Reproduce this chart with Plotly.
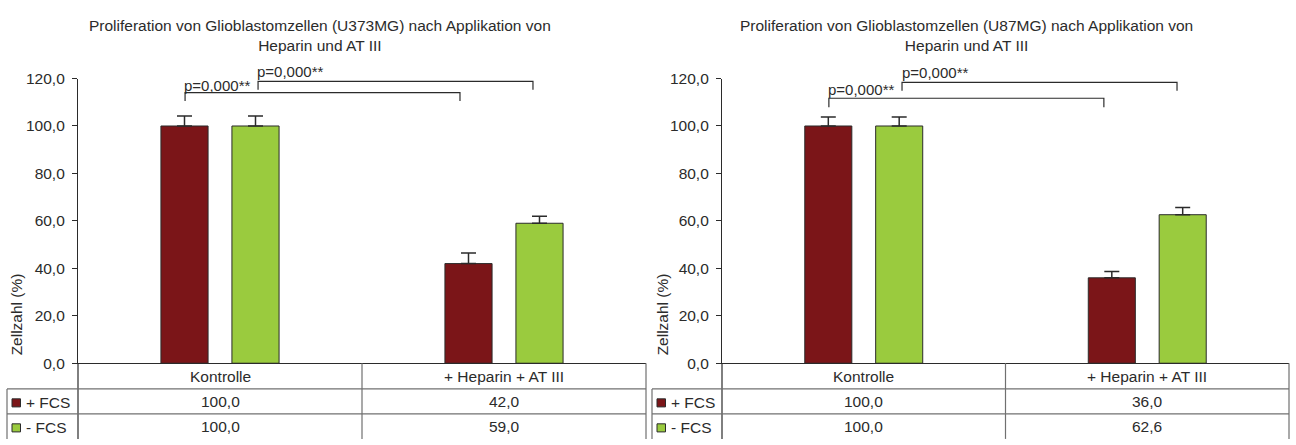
import plotly.graph_objects as go

# ---------------- data ----------------
categories = ["Kontrolle", "+ Heparin + AT III"]
series_names = ["+ FCS", "- FCS"]
titles = [
    "Proliferation von Glioblastomzellen (U373MG) nach Applikation von<br>Heparin und AT III",
    "Proliferation von Glioblastomzellen (U87MG) nach Applikation von<br>Heparin und AT III",
]
u373_plus = [100.0, 42.0]
u373_minus = [100.0, 59.0]
u373_plus_err = [4.2, 4.5]
u373_minus_err = [4.2, 3.0]
u87_plus = [100.0, 36.0]
u87_minus = [100.0, 62.6]
u87_plus_err = [3.8, 2.7]
u87_minus_err = [3.8, 3.0]
p_label = "p=0,000**"
y_ticks = [0, 20, 40, 60, 80, 100, 120]

# ---------------- style ----------------
W, H = 1296, 445
RED = "#7b1518"
GREEN = "#9acb3e"
DARK = "#2b2b2b"
GRID = "#707070"
FONT = "Liberation Sans, Arial, sans-serif"
FS = 15.5


def px(x):
    return x / W


def py(y):
    return 1 - y / H


panels = [
    dict(x0=78, x1=646, lab0=7, yt=16.5, tcx=320,
         plus=u373_plus, minus=u373_minus, pe=u373_plus_err, me=u373_minus_err,
         brA=(-0.123, 0.845, 114.1, 110.5), brB=(0.134, 1.102, 118.8, 115.3),
         lA=(-0.012, 116.9), lB=(0.246, 123.1)),
    dict(x0=722, x1=1289, lab0=652, yt=662.5, tcx=966,
         plus=u87_plus, minus=u87_minus, pe=u87_plus_err, me=u87_minus_err,
         brA=(-0.123, 0.847, 111.7, 107.9), brB=(0.135, 1.105, 118.4, 114.9),
         lA=(-0.008, 115.4), lB=(0.250, 122.7)),
]

Y0, Y120 = 368.3, 72.3
ROW1, ROW2 = 395, 421

fig = go.Figure()
shapes = []
annotations = []
xpos = [0, 1]
bw = 0.166

for i, p in enumerate(panels):
    xa = "x" if i == 0 else "x2"
    ya = "y" if i == 0 else "y2"
    for vals, errs, col, off, name in [
        (p["plus"], p["pe"], RED, -0.125 - bw / 2, series_names[0]),
        (p["minus"], p["me"], GREEN, 0.125 - bw / 2, series_names[1]),
    ]:
        fig.add_trace(go.Bar(
            x=xpos, y=vals, width=bw, offset=off, name=name, showlegend=False,
            marker=dict(color=col, line=dict(color=DARK, width=1)),
            error_y=dict(type="data", array=errs, arrayminus=[0] * len(errs),
                         symmetric=False, color=DARK, thickness=1.5, width=7.5),
            xaxis=xa, yaxis=ya,
        ))

    # brackets
    for (xl, xr, yh, yl) in (p["brA"], p["brB"]):
        shapes.append(dict(type="path", xref=xa, yref=ya,
                           path=f"M {xl},{yl} L {xl},{yh} L {xr},{yh} L {xr},{yl}",
                           line=dict(color=DARK, width=1.2)))
    for (lx, ly) in (p["lA"], p["lB"]):
        annotations.append(dict(x=lx, y=ly / 120.0, xref=xa, yref=ya + " domain", text=p_label,
                                showarrow=False, xanchor="center", yanchor="middle",
                                font=dict(size=15, color=DARK, family=FONT)))

    # title
    annotations.append(dict(x=px(p["tcx"]), y=py(6), xref="paper", yref="paper",
                            text=titles[i], showarrow=False, xanchor="center",
                            yanchor="top", align="center",
                            font=dict(size=FS, color=DARK, family=FONT)))
    # y title
    annotations.append(dict(x=px(p["yt"]), y=py(318), xref="paper", yref="paper",
                            text="Zellzahl (%)", textangle=-90, showarrow=False,
                            xanchor="center", yanchor="middle",
                            font=dict(size=FS, color=DARK, family=FONT)))

    # table lines
    x0, x1, lab0 = p["x0"], p["x1"], p["lab0"]
    xm = (x0 + x1) / 2
    tl = dict(color=GRID, width=1.2)
    shapes += [
        dict(type="line", xref="paper", yref="paper", x0=px(x1), x1=px(x1), y0=py(Y0), y1=py(H + 2), line=tl),
        dict(type="line", xref="paper", yref="paper", x0=px(xm), x1=px(xm), y0=py(Y0), y1=py(H + 2), line=tl),
        dict(type="line", xref="paper", yref="paper", x0=px(x0), x1=px(x0), y0=py(Y0), y1=py(H + 2), line=dict(color=DARK, width=1.2)),
        dict(type="line", xref="paper", yref="paper", x0=px(lab0), x1=px(lab0), y0=py(ROW1), y1=py(H + 2), line=tl),
        dict(type="line", xref="paper", yref="paper", x0=px(lab0), x1=px(x1), y0=py(ROW1), y1=py(ROW1), line=tl),
        dict(type="line", xref="paper", yref="paper", x0=px(lab0), x1=px(x1), y0=py(ROW2), y1=py(ROW2), line=tl),
    ]
    # table header (categories) and values
    for j, cat in enumerate(categories):
        annotations.append(dict(x=xpos[j], y=py(382), xref=xa, yref="paper", text=cat,
                                showarrow=False, xanchor="center", yanchor="middle",
                                font=dict(size=FS, color=DARK, family=FONT)))
        for vals, yc in ((p["plus"], 408.5), (p["minus"], 434)):
            annotations.append(dict(x=xpos[j], y=py(yc), xref=xa, yref="paper",
                                    text=f"{vals[j]:.1f}".replace(".", ","),
                                    showarrow=False, xanchor="center", yanchor="middle",
                                    font=dict(size=FS, color=DARK, family=FONT)))
    # row labels with swatches
    for name, col, yc in ((series_names[0], RED, 409.5), (series_names[1], GREEN, 435.5)):
        shapes.append(dict(type="rect", xref="paper", yref="paper",
                           x0=px(lab0 + 5), x1=px(lab0 + 13.5), y0=py(yc - 4.2), y1=py(yc + 4.2),
                           fillcolor=col, line=dict(color=DARK, width=1)))
        annotations.append(dict(x=px(lab0 + 17), y=py(yc), xref="paper", yref="paper",
                                text=name, showarrow=False, xanchor="left", yanchor="middle",
                                font=dict(size=FS, color=DARK, family=FONT)))

yd = [py(Y0), py(Y120)]
axis_common_y = dict(range=[0, 120], tickvals=y_ticks, tickformat=".1f", showgrid=False,
                     zeroline=False, showline=True, linecolor=DARK, linewidth=1.2,
                     ticks="outside", ticklen=5, tickcolor=DARK, tickwidth=1.2,
                     ticklabelstandoff=4,
                     tickfont=dict(size=FS, color=DARK, family=FONT), domain=yd)
axis_common_x = dict(range=[-0.5, 1.5], showgrid=False, zeroline=False, showline=True,
                     linecolor=DARK, linewidth=1.2, showticklabels=False, ticks="")

fig.update_layout(
    width=W, height=H, margin=dict(l=0, r=0, t=0, b=0),
    paper_bgcolor="white", plot_bgcolor="white",
    separators=",.",
    barmode="group",
    xaxis=dict(domain=[px(78), px(646)], anchor="y", **axis_common_x),
    yaxis=dict(anchor="x", **axis_common_y),
    xaxis2=dict(domain=[px(722), px(1289)], anchor="y2", **axis_common_x),
    yaxis2=dict(anchor="x2", **axis_common_y),
    shapes=shapes, annotations=annotations,
    font=dict(family=FONT, color=DARK),
)

fig.write_html("out.html")
